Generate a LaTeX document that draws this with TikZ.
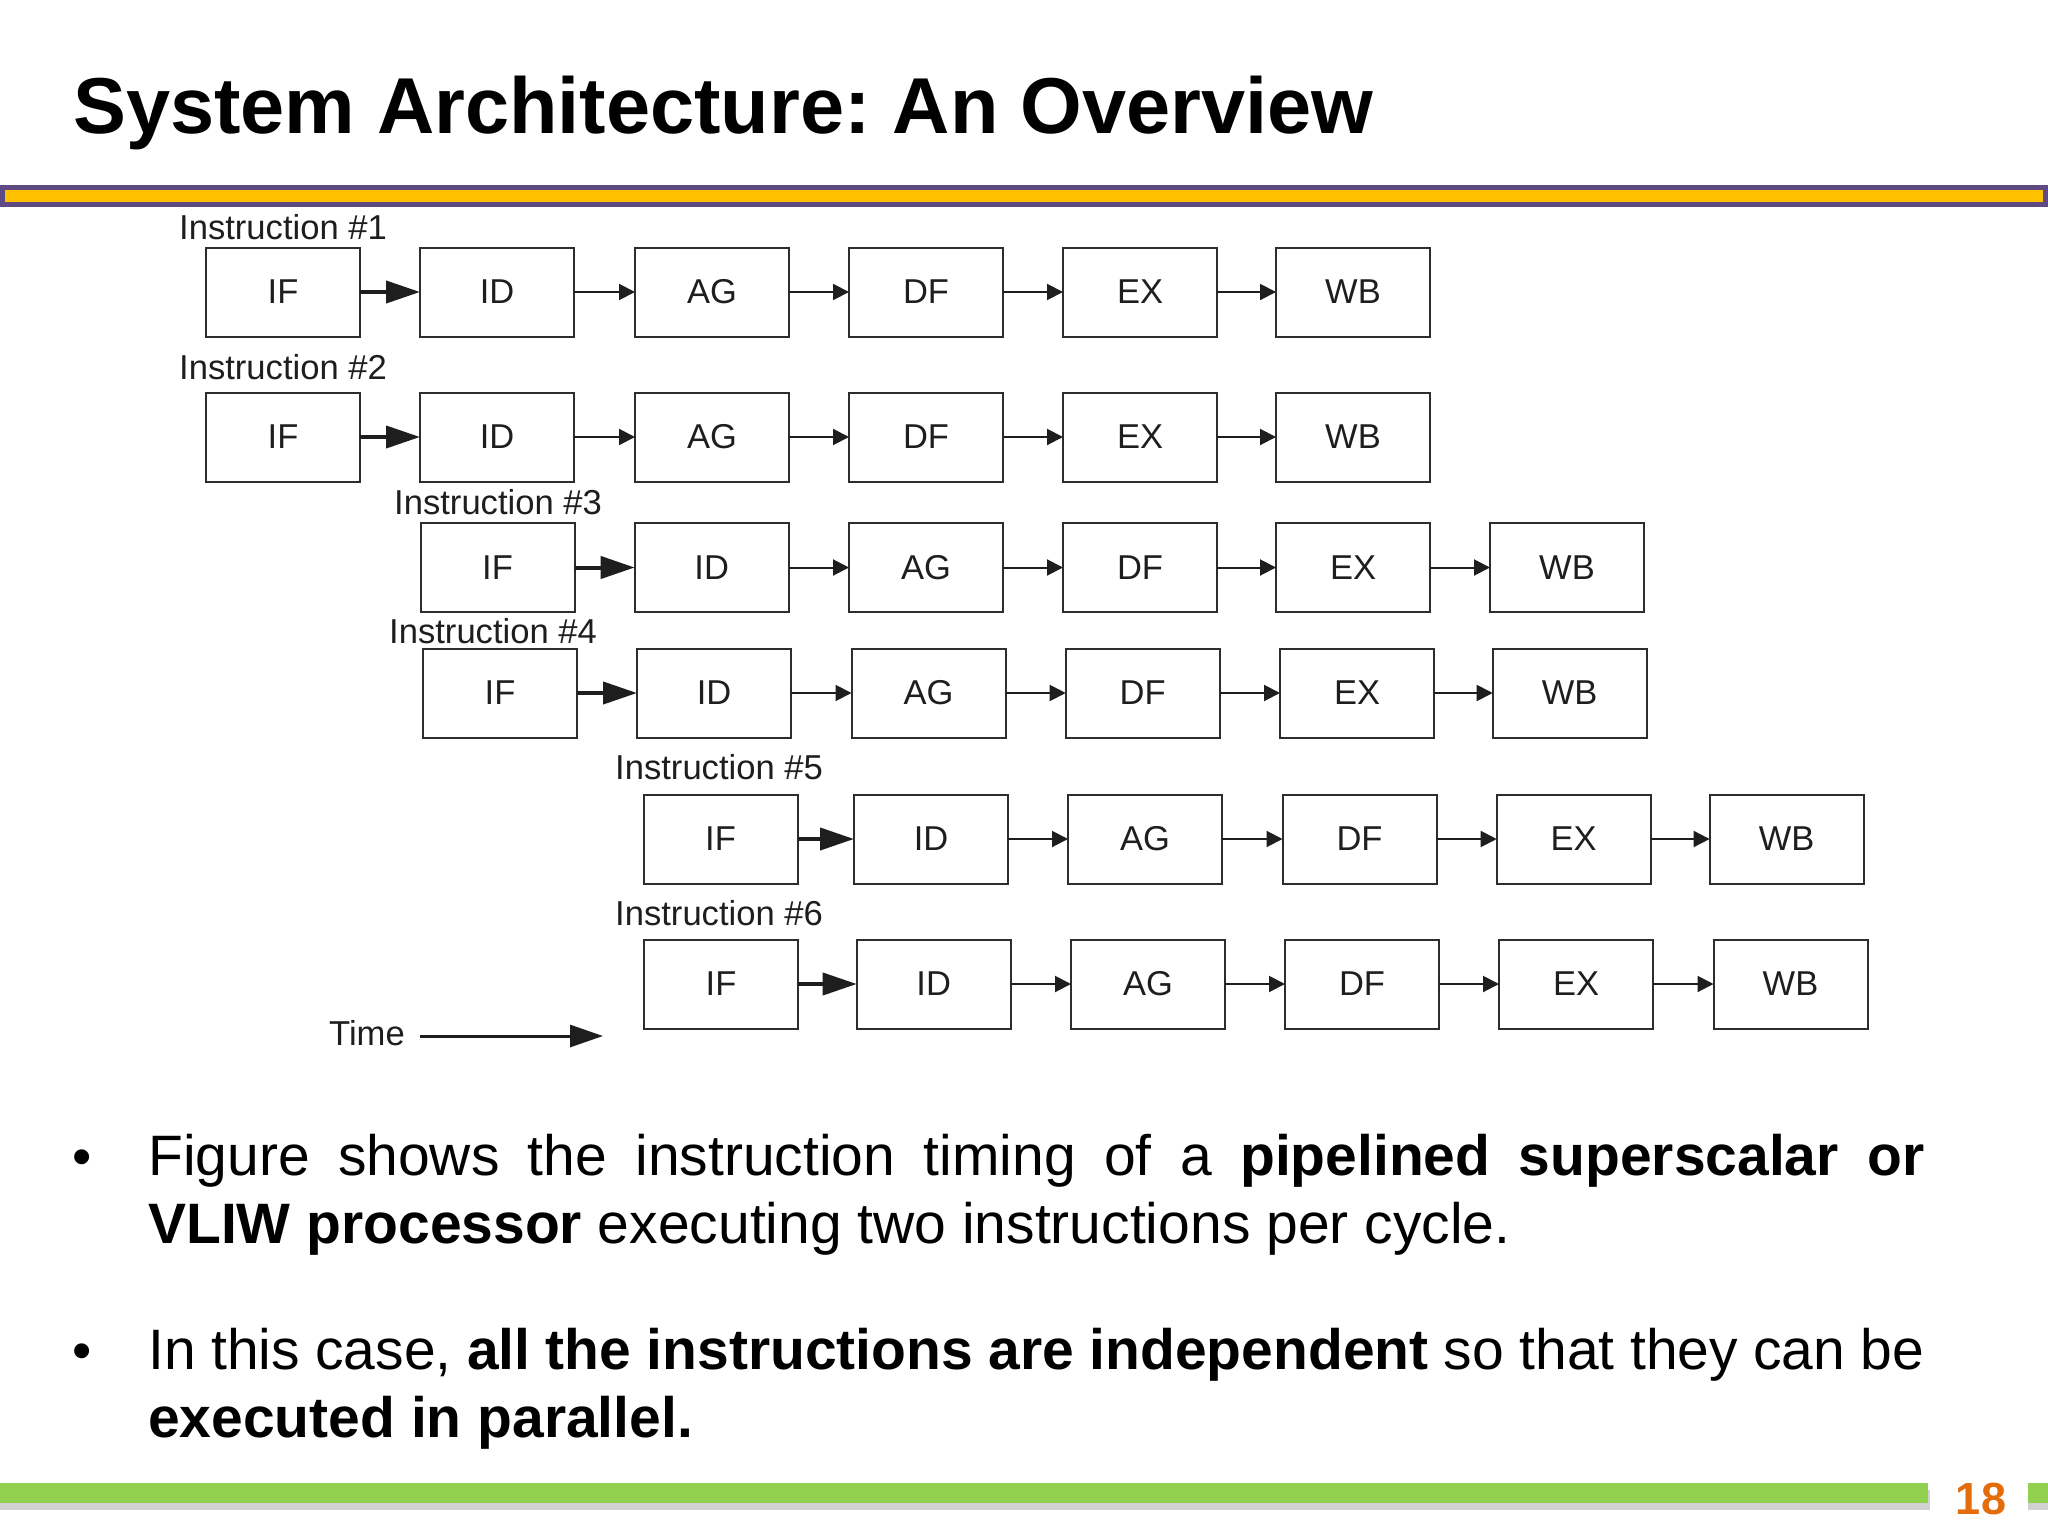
\documentclass[tikz,border=0pt]{standalone}
\usepackage{fontspec}
\setmainfont{Liberation Sans}
\usetikzlibrary{arrows.meta}
\frenchspacing
\definecolor{hdrpurple}{RGB}{94,74,130}
\definecolor{hdryellow}{RGB}{255,192,0}
\definecolor{ftgreen}{RGB}{146,208,80}
\definecolor{pgorange}{RGB}{228,108,10}
\definecolor{boxline}{RGB}{45,45,45}
\definecolor{txtdark}{RGB}{30,30,30}
\newcommand{\pipeRow}[8]{%
  \node[stagebox] (r#1c1) at (#3,#2) {IF};
  \node[stagebox] (r#1c2) at (#4,#2) {ID};
  \node[stagebox] (r#1c3) at (#5,#2) {AG};
  \node[stagebox] (r#1c4) at (#6,#2) {DF};
  \node[stagebox] (r#1c5) at (#7,#2) {EX};
  \node[stagebox] (r#1c6) at (#8,#2) {WB};
  \draw[bigarr] (r#1c1) -- (r#1c2);
  \draw[smallarr] (r#1c2) -- (r#1c3);
  \draw[smallarr] (r#1c3) -- (r#1c4);
  \draw[smallarr] (r#1c4) -- (r#1c5);
  \draw[smallarr] (r#1c5) -- (r#1c6);
}
\begin{document}
\begin{tikzpicture}[x=1pt,y=-1pt,
  stagebox/.style={draw=boxline, line width=2pt, minimum width=154pt, minimum height=89pt,
    inner sep=0pt, outer sep=0pt, text=txtdark, font=\fontsize{34.5}{41}\selectfont},
  instlabel/.style={anchor=base west, inner sep=0pt, text=txtdark, font=\fontsize{34.6}{41}\selectfont},
  bigarr/.style={draw=txtdark, line width=4pt, -{Triangle[length=34pt,width=22pt]}},
  smallarr/.style={draw=txtdark, line width=2pt, -{Triangle[length=16pt,width=16pt]}},
  timearr/.style={draw=txtdark, line width=3pt, -{Triangle[length=33pt,width=22pt]}},
  bullettext/.style={anchor=base west, inner sep=0pt, text width=1776pt, align=justify,
    font=\fontsize{57}{68}\selectfont},
  bulletdot/.style={anchor=base, inner sep=0pt, font=\fontsize{55}{68}\selectfont}]
\useasboundingbox (0,0) rectangle (2048,1536);
\fill[white] (0,0) rectangle (2048,1536);

% title
\node[anchor=base west, inner sep=0pt, font=\bfseries\fontsize{79.3}{95}\selectfont] (title) at (73,134) {System Architecture: An Overview};

% header bar
\draw[draw=hdrpurple, fill=hdryellow, line width=5pt] (2.5,187.5) rectangle (2045.5,204.5);

% instruction labels
\node[instlabel] (l1) at (179,239) {Instruction \#1};
\node[instlabel] (l2) at (179,379) {Instruction \#2};
\node[instlabel] (l3) at (394,514) {Instruction \#3};
\node[instlabel] (l4) at (389,643) {Instruction \#4};
\node[instlabel] (l5) at (615,779) {Instruction \#5};
\node[instlabel] (l6) at (615,925) {Instruction \#6};

% pipeline rows
\pipeRow{1}{292}{283}{497}{712}{926}{1140}{1353}
\pipeRow{2}{437}{283}{497}{712}{926}{1140}{1353}
\pipeRow{3}{567.5}{497.5}{711.7}{926}{1140}{1353}{1567}
\pipeRow{4}{693}{500}{714}{928.5}{1142.7}{1357}{1569.7}
\pipeRow{5}{839}{720.5}{931}{1145}{1359.5}{1573.7}{1786.6}
\pipeRow{6}{984}{721}{933.7}{1148}{1362}{1576}{1790.5}

% time arrow
\node[instlabel] (time) at (329,1045) {Time};
\coordinate (tstart) at (420,1036);
\coordinate (tend) at (603,1036);
\draw[timearr] (tstart) -- (tend);

% bullets
\node[bulletdot] (d1) at (82,1175) {•};
\node[bullettext] (b1) at (148,1175) {\hyphenpenalty=10000\exhyphenpenalty=10000 Figure shows the instruction timing of a \textbf{pipelined superscalar or}\linebreak \textbf{VLIW processor} executing two instructions per cycle.};
\node[bulletdot] (d2) at (82,1369) {•};
\node[bullettext] (b2) at (148,1369) {\hyphenpenalty=10000\exhyphenpenalty=10000 In this case, \textbf{all the instructions are independent} so that they can be\linebreak \textbf{executed in parallel.}};

% footer
\fill[black!18] (0,1490) rectangle (1930,1510);
\fill[ftgreen] (0,1483) rectangle (1928,1503);
\fill[black!18] (2028,1490) rectangle (2048,1510);
\fill[ftgreen] (2028,1483) rectangle (2048,1503);
\node[inner sep=0pt, text=pgorange, font=\bfseries\fontsize{45}{54}\selectfont] (pg) at (1981,1499) {18};
\end{tikzpicture}
\end{document}
